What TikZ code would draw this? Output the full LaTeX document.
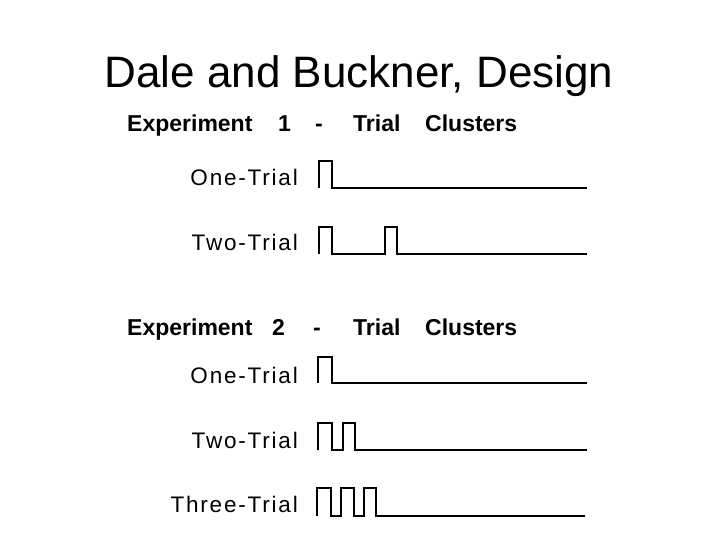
\documentclass[tikz,border=0pt]{standalone}
\usepackage{fontspec}
\setmainfont{Liberation Sans}
\newfontfamily\lblfont[LetterSpace=8]{Liberation Sans}
\begin{document}
\begin{tikzpicture}[x=1pt,y=-1pt,
  title/.style={font=\fontsize{44}{48}\selectfont, anchor=base, inner sep=0pt},
  head/.style={font=\fontsize{23}{26}\selectfont\bfseries, anchor=base west, inner sep=0pt},
  lbl/.style={font=\lblfont\fontsize{22.5}{24}\selectfont, anchor=base east, inner sep=0pt},
  pulse/.style={line width=2.4pt, line join=miter, line cap=butt}]
\useasboundingbox (0,0) rectangle (720,540);
\node[title] (t) at (359,88) {Dale and Buckner, Design};
% Experiment 1 heading
\node[head] (e1a) at (127,132) {Experiment};
\node[head] (e1b) at (278,132) {1};
\node[head] (e1c) at (315,132) {-};
\node[head] (e1d) at (353,132) {Trial};
\node[head] (e1e) at (425,132) {Clusters};
% Experiment 2 heading
\node[head] (e2a) at (127,335) {Experiment};
\node[head] (e2b) at (272,335) {2};
\node[head] (e2c) at (313,335) {-};
\node[head] (e2d) at (353,335) {Trial};
\node[head] (e2e) at (425,335) {Clusters};
% labels
\node[lbl] (l1) at (298,186) {One-Trial};
\node[lbl] (l2) at (298,251) {Two-Trial};
\node[lbl] (l3) at (298,383) {One-Trial};
\node[lbl] (l4) at (298,448) {Two-Trial};
\node[lbl] (l5) at (298,512) {Three-Trial};
% pulse trains
\draw[pulse] (319,188) -- (319,161) -- (332,161) -- (332,188) -- (587,188);
\draw[pulse] (319,254) -- (319,227) -- (332,227) -- (332,254) -- (385,254) -- (385,227) -- (397,227) -- (397,254) -- (587,254);
\draw[pulse] (318,383) -- (318,357) -- (332,357) -- (332,383) -- (587,383);
\draw[pulse] (318,450) -- (318,423) -- (332,423) -- (332,450) -- (343,450) -- (343,423) -- (355,423) -- (355,450) -- (587,450);
\draw[pulse] (317,516) -- (317,488) -- (331,488) -- (331,516) -- (341,516) -- (341,488) -- (354,488) -- (354,516) -- (364,516) -- (364,488) -- (376,488) -- (376,516) -- (585,516);
\end{tikzpicture}
\end{document}
